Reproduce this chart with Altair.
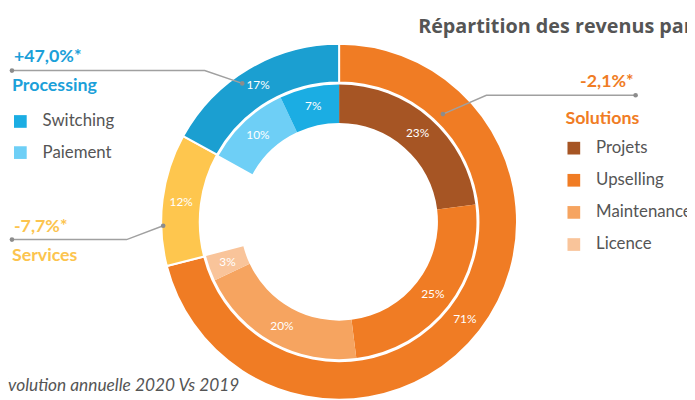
import altair as alt
import pandas as pd

# ---- data ----
groups = ["Solutions", "Services", "Processing"]
group_values = [71, 12, 17]
group_labels = ["71%", "12%", "17%"]

subs = ["Projets", "Upselling", "Maintenance", "Licence", "", "Paiement", "Switching"]
sub_parent = ["Solutions", "Solutions", "Solutions", "Solutions", "Services", "Processing", "Processing"]
sub_values = [23, 25, 20, 3, 12, 10, 7]
sub_labels = ["23%", "25%", "20%", "3%", "", "10%", "7%"]

solutions_legend = ["Projets", "Upselling", "Maintenance", "Licence"]
processing_legend = ["Switching", "Paiement"]

evol_processing = "+47,0%*"
evol_services = "-7,7%*"
evol_solutions = "-2,1%*"

title_text = "Répartition des revenus par segment"
note_text = "*évolution annuelle 2020 Vs 2019"

# ---- styles ----
FONT = "Lato"
BLUE = "#1BA0D9"
YELLOW = "#FCC44E"
ORANGE = "#F07C24"
GRAY = "#555555"
LINE = "#A0A0A0"

color_domain = ["Solutions", "Services", "Processing", "Projets", "Upselling", "Maintenance", "Licence"]
color_range = ["#F07C24", "#FEC64E", "#1B9FD1", "#A65524", "#F07C24", "#F6A460", "#F9C49A"]
fill_domain = processing_legend
fill_range = ["#1BADE3", "#6ECFF6"]

CX, CY = 335, 214  # donut centre in chart pixels

W, H = 687, 392
xs = alt.Scale(domain=[8, 8 + W], range=[0, W], nice=False, zero=False)
ys = alt.Scale(domain=[8, 8 + H], range=[0, H], nice=False, zero=False)
ts = alt.Scale(domain=[0, 100])
cs = alt.Scale(domain=color_domain, range=color_range)

outer_df = pd.DataFrame({"name": groups, "value": group_values, "label": group_labels,
                         "idx": list(range(len(groups)))})
inner_df = pd.DataFrame({"name": subs, "parent": sub_parent, "value": sub_values,
                         "label": sub_labels, "idx": list(range(len(subs)))})


def stacked(df):
    return alt.Chart(df).transform_window(
        end="sum(value)", frame=[None, 0], sort=[alt.SortField("idx")]
    ).transform_calculate(
        start="datum.end - datum.value", mid="datum.end - datum.value / 2"
    )


outer_base = stacked(outer_df)
inner_base = stacked(inner_df)

outer_ring = outer_base.mark_arc(x=CX, y=CY, radius=180, radius2=141,
                                 stroke="white", strokeWidth=2).encode(
    theta=alt.Theta("start:Q", scale=ts),
    theta2="end:Q",
    color=alt.Color("name:N", scale=cs,
                    legend=alt.Legend(orient="none", legendX=564, legendY=131,
                                      values=solutions_legend, title=None,
                                      symbolType="square", symbolSize=165,
                                      symbolStrokeWidth=0, labelFont=FONT,
                                      labelFontSize=17, labelColor=GRAY,
                                      labelOffset=14, rowPadding=14.5, padding=0)),
)

inner_sol = inner_base.transform_filter("datum.parent == 'Solutions'").mark_arc(
    x=CX, y=CY, radius=139, radius2=100).encode(
    theta=alt.Theta("start:Q", scale=ts),
    theta2="end:Q",
    color=alt.Color("name:N", scale=cs),
)

inner_proc = inner_base.transform_filter("datum.parent == 'Processing'").mark_arc(
    x=CX, y=CY, radius=139, radius2=100).encode(
    theta=alt.Theta("start:Q", scale=ts),
    theta2="end:Q",
    fill=alt.Fill("name:N", scale=alt.Scale(domain=fill_domain, range=fill_range),
                  legend=alt.Legend(orient="none", legendX=4, legendY=104,
                                    title=None, symbolType="square", symbolSize=165,
                                    symbolStrokeWidth=0, labelFont=FONT,
                                    labelFontSize=17, labelColor=GRAY,
                                    labelOffset=14, rowPadding=13.5, padding=0)),
)

outer_text = outer_base.mark_text(x=CX, y=CY, radius=161, font=FONT, fontSize=12,
                                  color="white").encode(
    theta=alt.Theta("mid:Q", scale=ts), text="label:N")

inner_text = inner_base.transform_filter("datum.label != ''").mark_text(
    x=CX, y=CY, radius=120, font=FONT, fontSize=12, color="white").encode(
    theta=alt.Theta("mid:Q", scale=ts), text="label:N")

# ---- leader lines (image coordinates) ----
lines_df = pd.DataFrame({
    "line": ["p", "p", "p", "s", "s", "s", "o", "o", "o"],
    "seq": [0, 1, 2, 0, 1, 2, 0, 1, 2],
    "px": [12, 207, 245, 12, 128, 165, 448, 492, 643],
    "py": [69, 69, 82, 240, 240, 226, 113, 94, 94],
})
leader = alt.Chart(lines_df).mark_line(color=LINE, strokeWidth=1.5).encode(
    x=alt.X("px:Q", scale=xs, axis=None),
    y=alt.Y("py:Q", scale=ys, axis=None),
    detail="line:N", order="seq:Q")
dots = alt.Chart(lines_df).transform_filter("datum.seq != 1").mark_circle(
    color="#8C8C8C", opacity=1, size=22).encode(
    x=alt.X("px:Q", scale=xs, axis=None), y=alt.Y("py:Q", scale=ys, axis=None))


def label(texts, xs_, ys_, color, size, weight="bold", align="left", style="normal", font=FONT):
    df = pd.DataFrame({"t": texts, "px": xs_, "py": ys_})
    return alt.Chart(df).mark_text(font=font, fontSize=size, fontWeight=weight,
                                   color=color, align=align, baseline="alphabetic",
                                   fontStyle=style).encode(
        x=alt.X("px:Q", scale=xs, axis=None), y=alt.Y("py:Q", scale=ys, axis=None),
        text="t:N")


t_blue = label([evol_processing, "Processing"], [14, 12], [60, 90], BLUE, 18)
t_yellow = label([evol_services, "Services"], [14, 12], [232, 262], YELLOW, 18)
t_orange_r = label([evol_solutions], [641], [86], ORANGE, 18, align="right")
t_orange = label(["Solutions"], [572], [123], ORANGE, 18)
t_title = label([title_text], [423], [31], GRAY, 20, font="Open Sans")
t_note = label([note_text], [242], [393], GRAY, 17.5, weight="normal", align="right",
               style="italic")

chart = alt.layer(
    outer_ring, inner_sol, inner_proc, outer_text, inner_text,
    leader, dots, t_blue, t_yellow, t_orange_r, t_orange, t_title, t_note
).properties(
    width=W, height=H, autosize=alt.AutoSizeParams(type="none"), padding=0
).configure_view(stroke=None).configure_legend(padding=0)

chart.save("out.html", embed_options={"renderer": "svg", "actions": False})
